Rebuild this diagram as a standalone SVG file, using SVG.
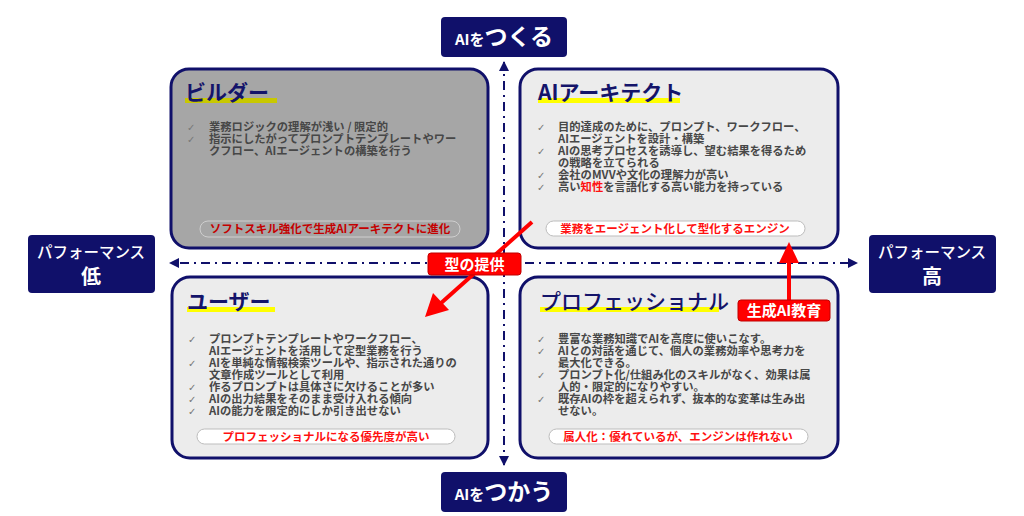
<svg xmlns="http://www.w3.org/2000/svg" width="1024" height="516" viewBox="0 0 1024 516">
<style>
text{font-family:"Noto Sans CJK JP","Liberation Sans",sans-serif}
.quad{stroke:#10106a;stroke-width:3}
.title{font-size:21px;fill:#14146a;font-weight:bold}
.b{font-size:11.3px;fill:#474747;font-weight:bold}
.ck{font-family:"DejaVu Sans",sans-serif;font-size:10px;fill:#777}
.lbl{fill:#fff;stroke:#bdbdbd;stroke-width:1}
.lt{font-size:11.5px;fill:#ff1010;font-weight:bold;text-anchor:middle}
.ax{fill:#10106a}
.axt{fill:#fff;text-anchor:middle;font-weight:bold}
.axis{stroke:#10106a;stroke-width:2;stroke-dasharray:9 5 2 5;fill:none}
.red{fill:#ff0000}
.rt{fill:#fff;font-size:15px;font-weight:bold;text-anchor:middle}
</style>
<defs>
<marker id="ah" viewBox="0 0 10 10" refX="9" refY="5" markerWidth="10" markerHeight="10" markerUnits="userSpaceOnUse" orient="auto">
<path d="M0,0 L10,5 L0,10 z" fill="#10106a"/>
</marker>
</defs>
<rect width="1024" height="516" fill="#fff"/>

<g id="connectors">
<line class="axis" x1="504" y1="258" x2="504" y2="62" marker-end="url(#ah)"/>
<line class="axis" x1="504" y1="268" x2="504" y2="465" marker-end="url(#ah)"/>
<line class="axis" x1="504" y1="263" x2="170" y2="263" marker-end="url(#ah)"/>
<line class="axis" x1="504" y1="263" x2="857" y2="263" marker-end="url(#ah)"/>
</g>

<g id="builder">
<rect class="quad" x="171" y="69" width="317" height="179" rx="18" fill="#a6a6a6"/>
<rect x="185" y="98" width="92" height="5" fill="#c8c800"/>
<text class="title" x="185" y="100">ビルダー</text>
<text class="ck" x="187" y="131">✓</text><text class="b" x="209" y="131">業務ロジックの理解が浅い / 限定的</text>
<text class="ck" x="187" y="143">✓</text><text class="b" x="209" y="143">指示にしたがってプロンプトテンプレートやワー</text>
<text class="b" x="209" y="155">クフロー、AIエージェントの構築を行う</text>
<rect x="200" y="221" width="260" height="16" rx="8" fill="#a6a6a6" stroke="#cfcfcf" stroke-width="1"/>
<text class="lt" x="330" y="233" style="fill:#c40000">ソフトスキル強化で生成AIアーキテクトに進化</text>
</g>

<g id="architect">
<rect class="quad" x="520" y="69" width="318" height="179" rx="18" fill="#ececec"/>
<rect x="538" y="98" width="142" height="5" fill="#ffff00"/>
<text class="title" x="538" y="100">AIアーキテクト</text>
<text class="ck" x="537" y="131">✓</text><text class="b" x="558" y="131">目的達成のために、プロンプト、ワークフロー、</text>
<text class="b" x="558" y="143">AIエージェントを設計・構築</text>
<text class="ck" x="537" y="155">✓</text><text class="b" x="558" y="155">AIの思考プロセスを誘導し、望む結果を得るため</text>
<text class="b" x="558" y="167">の戦略を立てられる</text>
<text class="ck" x="537" y="179">✓</text><text class="b" x="558" y="179">会社のMVVや文化の理解力が高い</text>
<text class="ck" x="537" y="191">✓</text><text class="b" x="558" y="191">高い<tspan fill="#ff1010">知性</tspan>を言語化する高い能力を持っている</text>
<rect class="lbl" x="546" y="221" width="259" height="15" rx="7.5"/>
<text class="lt" x="675" y="233">業務をエージェント化して型化するエンジン</text>
</g>

<g id="user">
<rect class="quad" x="172" y="277" width="316" height="181" rx="18" fill="#ececec"/>
<rect x="187" y="307" width="88" height="5" fill="#ffff00"/>
<text class="title" x="187" y="309">ユーザー</text>
<text class="ck" x="188" y="343">✓</text><text class="b" x="209" y="343">プロンプトテンプレートやワークフロー、</text>
<text class="b" x="209" y="355">AIエージェントを活用して定型業務を行う</text>
<text class="ck" x="188" y="367">✓</text><text class="b" x="209" y="367">AIを単純な情報検索ツールや、指示された通りの</text>
<text class="b" x="209" y="379">文章作成ツールとして利用</text>
<text class="ck" x="188" y="391">✓</text><text class="b" x="209" y="391">作るプロンプトは具体さに欠けることが多い</text>
<text class="ck" x="188" y="403">✓</text><text class="b" x="209" y="403">AIの出力結果をそのまま受け入れる傾向</text>
<text class="ck" x="188" y="415">✓</text><text class="b" x="209" y="415">AIの能力を限定的にしか引き出せない</text>
<rect class="lbl" x="197" y="429" width="258" height="15" rx="7.5"/>
<text class="lt" x="326" y="441">プロフェッショナルになる優先度が高い</text>
</g>

<g id="professional">
<rect class="quad" x="520" y="277" width="318" height="181" rx="18" fill="#ececec"/>
<rect x="540" y="307" width="179" height="5" fill="#ffff00"/>
<text class="title" x="540" y="309" style="font-weight:500">プロフェッショナル</text>
<text class="ck" x="537" y="343">✓</text><text class="b" x="558" y="343">豊富な業務知識でAIを高度に使いこなす。</text>
<text class="ck" x="537" y="355">✓</text><text class="b" x="558" y="355">AIとの対話を通じて、個人の業務効率や思考力を</text>
<text class="b" x="558" y="367">最大化できる。</text>
<text class="ck" x="537" y="379">✓</text><text class="b" x="558" y="379">プロンプト化/仕組み化のスキルがなく、効果は属</text>
<text class="b" x="558" y="391">人的・限定的になりやすい。</text>
<text class="ck" x="537" y="403">✓</text><text class="b" x="558" y="403">既存AIの枠を超えられず、抜本的な変革は生み出</text>
<text class="b" x="558" y="415">せない。</text>
<rect class="lbl" x="549" y="429" width="259" height="15" rx="7.5"/>
<text class="lt" x="678" y="441">属人化：優れているが、エンジンは作れない</text>
</g>

<g id="axis-top">
<rect class="ax" x="441" y="17" width="126" height="40" rx="4"/>
<text class="axt" x="504" y="45"><tspan font-size="15">AIを</tspan><tspan font-size="23">つくる</tspan></text>
</g>
<g id="axis-bottom">
<rect class="ax" x="441" y="472" width="126" height="40" rx="4"/>
<text class="axt" x="504" y="500"><tspan font-size="15">AIを</tspan><tspan font-size="23">つかう</tspan></text>
</g>
<g id="axis-left">
<rect class="ax" x="28" y="235" width="127" height="58" rx="4"/>
<text class="axt" x="91" y="258" font-size="15.5" style="font-weight:500">パフォーマンス</text>
<text class="axt" x="91" y="284" font-size="20">低</text>
</g>
<g id="axis-right">
<rect class="ax" x="869" y="235" width="127" height="58" rx="4"/>
<text class="axt" x="932" y="258" font-size="15.5" style="font-weight:500">パフォーマンス</text>
<text class="axt" x="932" y="284" font-size="20">高</text>
</g>

<g id="arrow-kata">
<line x1="532" y1="222" x2="440" y2="304" stroke="#ff0000" stroke-width="4"/>
<path d="M425,317 L433,293 L449,310 z" fill="#ff0000"/>
</g>
<g id="label-kata">
<rect class="red" x="428" y="253" width="93" height="22" rx="3" stroke="#c00000" stroke-width="1"/>
<text class="rt" x="474.5" y="270">型の提供</text>
</g>

<g id="arrow-edu">
<line x1="789" y1="300" x2="789" y2="260" stroke="#ff0000" stroke-width="4"/>
<path d="M789,242 L799,263 L779,263 z" fill="#ff0000"/>
</g>
<g id="label-edu">
<rect class="red" x="738" y="300" width="92" height="21" rx="3" stroke="#c00000" stroke-width="1"/>
<text class="rt" x="784" y="316">生成AI教育</text>
</g>
</svg>
